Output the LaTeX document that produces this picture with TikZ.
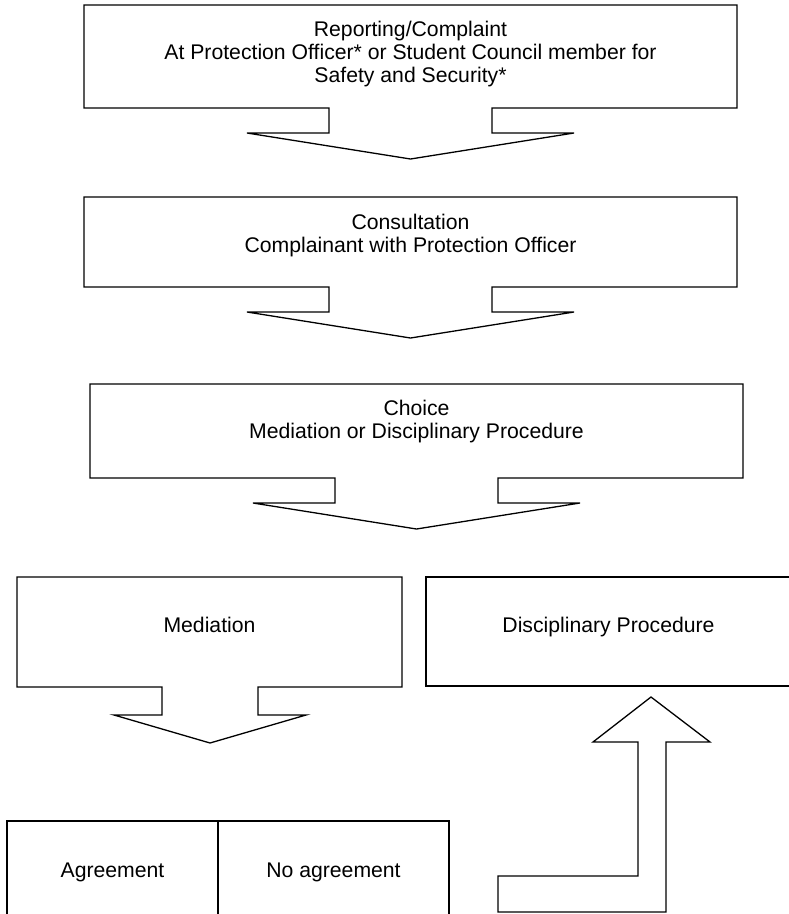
\documentclass[tikz,border=0pt]{standalone}
\usepackage{fontspec}
\setmainfont{Liberation Sans}
\usetikzlibrary{calc}
\newcommand{\textsizefactor}{21.2}
\tikzset{outline/.style={draw=black,line width=#1,line join=miter},outline/.default=1.3pt,
	label/.style={inner sep=0pt,align=center,font=\fontsize{\textsizefactor}{23}\selectfont}}

\begin{document}
\begin{tikzpicture}[x=1pt,y=-1pt]

		\useasboundingbox (0,0) rectangle (789,914);

		\coordinate (R) at (410.5,54.5);
		\coordinate (C) at (410.5,236);
		\coordinate (H) at (416.5,422);
		\coordinate (M) at (209.5,632);
		\coordinate (D) at (608.5,632);
		\coordinate (A) at (112.5,877);
		\coordinate (N) at (333.5,877);

		% down callouts
		\draw [outline] (84,5) -- (737,5) -- (737,108) -- (492,108) -- (492,133) -- (574,133)
			-- (410.5,159) -- (247,133) -- (329,133) -- (329,108) -- (84,108) -- cycle;
		\draw [outline] (84,197) -- (737,197) -- (737,287) -- (492,287) -- (492,312) -- (574,312)
			-- (410.5,338) -- (247,312) -- (329,312) -- (329,287) -- (84,287) -- cycle;
		\draw [outline] (90,384) -- (743,384) -- (743,478) -- (498,478) -- (498,503) -- (580,503)
			-- (416.5,529) -- (253,503) -- (335,503) -- (335,478) -- (90,478) -- cycle;
		\draw [outline] (17,577) -- (402,577) -- (402,687) -- (258,687) -- (258,715) -- (306,715)
			-- (210,743) -- (114,715) -- (162,715) -- (162,687) -- (17,687) -- cycle;

		% plain boxes
		\draw [outline] (426,577) rectangle (791,686);
		\draw [outline] (7,821) rectangle (449,925);
		\draw [outline] (218,821) -- (218,925);

		% bent up arrow
		\draw [outline] (651,697) -- (710,742) -- (666,742) -- (666,912) -- (498,912)
			-- (498,876) -- (638,876) -- (638,742) -- (593,742) -- cycle;

		\node [label] (nodeReport) at (R)
			{Reporting/Complaint\\At Protection Officer* or Student Council member for\\Safety and Security*};
		\node [label] (nodeConsult) at (C)
			{Consultation\\Complainant with Protection Officer};
		\node [label] (nodeChoice) at (H)
			{Choice\\Mediation or Disciplinary Procedure};
		\node [label,anchor=base] (nodeMediation) at (M) {Mediation};
		\node [label,anchor=base] (nodeProcedure) at (D) {Disciplinary Procedure};
		\node [label,anchor=base] (nodeAgree) at (A) {Agreement};
		\node [label,anchor=base] (nodeNoAgree) at (N) {No agreement};

	\end{tikzpicture}
\end{document}
